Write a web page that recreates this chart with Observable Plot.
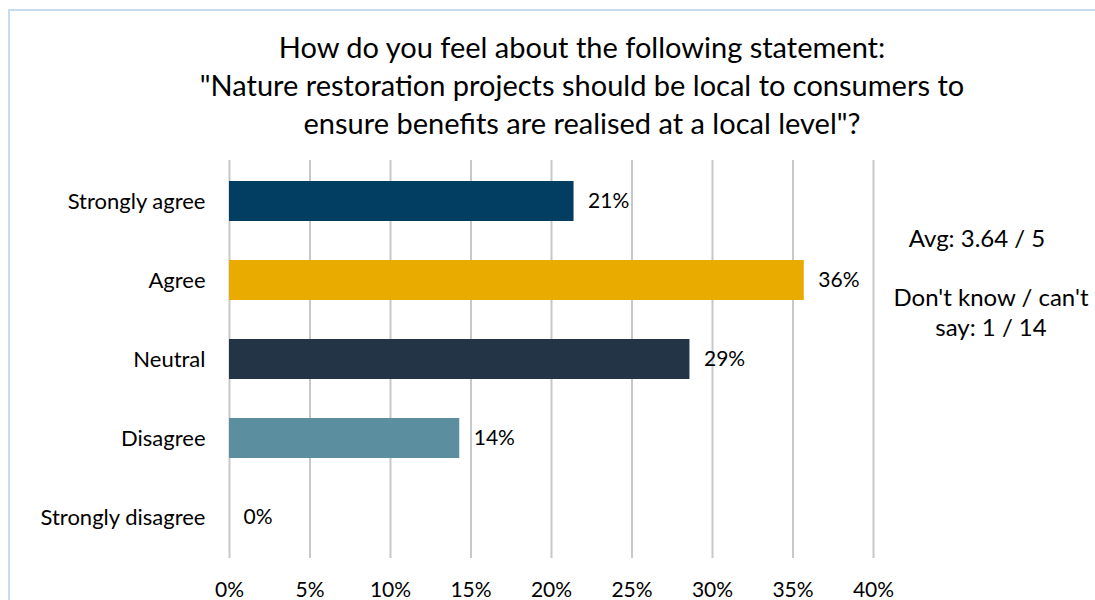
<!DOCTYPE html>
<html>
<head>
<meta charset="utf-8">
<script src="https://cdn.jsdelivr.net/npm/d3@7"></script>
<script src="https://cdn.jsdelivr.net/npm/@observablehq/plot@0.6"></script>
<style>
  html, body { margin: 0; padding: 0; background: #fff; }
  body { width: 1095px; height: 600px; position: relative; overflow: hidden; font-family: Lato, "Open Sans", sans-serif; color: #000; }
  #frame { position: absolute; left: 8px; top: 9px; width: 1100px; height: 600px; border-left: 2px solid #c7dcf3; border-top: 2px solid #c7dcf3; box-sizing: border-box; }
  #title { position: absolute; left: 132px; width: 900px; top: 28px; text-align: center; font-size: 29px; line-height: 38px; }
  #chart { position: absolute; left: 0; top: 150px; }
  .note { position: absolute; text-align: center; font-size: 24px; line-height: 30px; }
</style>
</head>
<body>
<div id="frame"></div>
<div id="title">How do you feel about the following statement:<br>"Nature restoration projects should be local to consumers to<br>ensure benefits are realised at a local level"?</div>
<div id="chart"></div>
<div class="note" style="left:857px; width:240px; top:223px;">Avg: 3.64 / 5</div>
<div class="note" style="left:871px; width:240px; top:282px;">Don't know / can't<br>say: 1 / 14</div>
<script>
const categories = ["Strongly agree", "Agree", "Neutral", "Disagree", "Strongly disagree"];
const values = [21.4, 35.7, 28.6, 14.3, 0];
const colors = ["#023e62", "#eaab00", "#243447", "#5b8f9f", "#8a8a8a"];
const xTicks = [0, 5, 10, 15, 20, 25, 30, 35, 40];

const data = categories.map((c, i) => ({category: c, value: values[i]}));

const chart = Plot.plot({
  width: 1095,
  height: 450,
  marginLeft: 229,
  marginRight: 222,
  marginTop: 10,
  marginBottom: 42,
  style: {fontFamily: "Lato, 'Open Sans', sans-serif", fontSize: "21px", color: "#000", background: "transparent", overflow: "visible"},
  x: {domain: [0, 40], ticks: xTicks, tickFormat: d => d + "%", label: null, tickSize: 0, tickPadding: 24},
  y: {domain: categories, paddingInner: 0.5, paddingOuter: 0.25, label: null, tickSize: 0, tickPadding: 24},
  color: {domain: categories, range: colors},
  marks: [
    Plot.gridX(xTicks, {stroke: "#c8c8c8", strokeWidth: 2, strokeOpacity: 1}),
    Plot.barX(data, {x: "value", y: "category", fill: "category"}),
    Plot.text(data, {x: "value", y: "category", text: d => Math.round(d.value) + "%", textAnchor: "start", dx: 14, fontSize: 21, fill: "#000"}),
    Plot.axisY({tickSize: 0, tickPadding: 24, fontSize: 22, label: null})
  ]
});
document.getElementById("chart").appendChild(chart);
</script>
</body>
</html>
